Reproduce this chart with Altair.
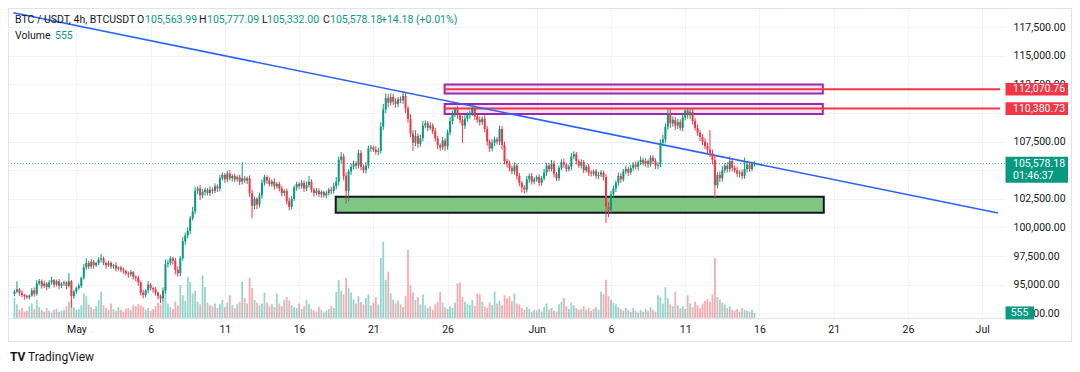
import altair as alt
import pandas as pd

# ---------------- data ----------------
first_open = 94200
closes = [
    94400, 94600, 94300, 94100, 94000, 93900, 94050, 94500, 94200, 95100,
    95300, 94900, 95100, 94800, 95200, 95400, 95000, 95300, 94900, 95100,
    95200, 94900, 95300, 94000, 94400, 94700, 94900, 95600, 96500, 96900,
    96600, 97000, 96700, 96900, 97200, 97300, 96900, 96700, 96900, 96600,
    96700, 96400, 96500, 96300, 96200, 96000, 95900, 96100, 95700, 95600,
    95200, 94300, 94100, 94500, 95000, 94700, 94600, 94300, 94000, 93800,
    94500, 96800, 96900, 97300, 97100, 96300, 96000, 97300, 98800, 99300,
    99700, 100800, 101400, 103200, 103400, 102800, 103100, 103300, 103000, 103300,
    103200, 103600, 103400, 104300, 104600, 104200, 104700, 104300, 104500, 104200,
    104400, 104000, 104300, 104100, 104300, 103000, 101900, 102500, 102000, 102800,
    103900, 104400, 104100, 103800, 104000, 103600, 103800, 103400, 103000, 103200,
    102300, 101800, 102500, 103500, 103800, 103600, 103900, 103400, 103700, 104000,
    103300, 103000, 103200, 102900, 103100, 102800, 103000, 103300, 103200, 103600,
    104000, 105900, 106200, 104500, 103200, 104900, 105300, 105600, 105400, 106500,
    105300, 105000, 105400, 106900, 107000, 106800, 106600, 106700, 108800, 110300,
    111300, 110900, 111400, 111000, 110800, 111200, 111100, 111500, 110400, 109500,
    108200, 107400, 108000, 107300, 107800, 108900, 109100, 108700, 108900, 108400,
    107800, 107200, 107000, 107600, 107100, 108300, 109300, 109900, 110300, 109800,
    109400, 108900, 109500, 109800, 110000, 110400, 109700, 109400, 109200, 109500,
    108600, 107500, 106900, 107400, 107700, 107500, 108600, 107200, 105800, 105600,
    105200, 104900, 105400, 104500, 103900, 103500, 103300, 104200, 104500, 104000,
    104200, 104400, 103900, 104300, 104800, 105400, 105100, 105600, 104700, 104300,
    105200, 105700, 105500, 105100, 105300, 106200, 106400, 105800, 105400, 105700,
    105000, 105300, 104800, 104700, 104900, 104500, 104600, 104800, 104400, 101800,
    101500, 102900, 103400, 103900, 104500, 104200, 104900, 105100, 104800, 105200,
    105500, 105300, 105700, 105900, 105600, 105800, 105500, 106100, 105800, 105400,
    105500, 107400, 107700, 108800, 110000, 109100, 109400, 108900, 109200, 108700,
    109600, 110200, 109800, 110100, 109300, 108700, 108300, 107900, 107500, 107100,
    106800, 106500, 105900, 103700, 104600, 104300, 105000, 105400, 105100, 105800,
    105200, 105000, 104700, 104800, 104500, 105100, 105500, 105100, 105563.99, 105578.18,
]
up_wick = [
    150, 700, 120, 200, 100, 150, 90, 200, 250, 300,
    200, 150, 250, 120, 180, 300, 100, 150, 200, 120,
    150, 100, 700, 100, 150, 120, 200, 100, 300, 400,
    200, 250, 150, 100, 200, 400, 150, 100, 200, 150,
    120, 250, 100, 150, 200, 100, 150, 180, 120, 100,
    200, 150, 250, 100, 300, 150, 100, 200, 120, 150,
    250, 400, 300, 200, 150, 250, 300, 200, 350, 250,
    300, 200, 400, 350, 200, 300, 250, 200, 150, 300,
    200, 250, 150, 300, 200, 150, 250, 300, 150, 200,
    150, 200, 1400, 200, 150, 250, 300, 200, 150, 250,
    300, 200, 150, 250, 200, 300, 150, 200, 250, 150,
    200, 300, 250, 150, 200, 150, 250, 200, 300, 500,
    200, 150, 250, 200, 150, 100, 200, 150, 250, 300,
    400, 300, 400, 250, 300, 200, 300, 250, 200, 300,
    250, 200, 300, 250, 200, 150, 300, 250, 400, 500,
    400, 350, 300, 250, 300, 200, 250, 450, 300, 200,
    400, 300, 500, 200, 300, 400, 250, 200, 300, 200,
    300, 200, 150, 300, 200, 250, 350, 300, 200, 300,
    200, 350, 300, 250, 200, 300, 350, 200, 300, 200,
    300, 250, 200, 300, 250, 200, 300, 250, 300, 200,
    250, 200, 300, 200, 250, 150, 200, 300, 200, 250,
    200, 150, 250, 200, 300, 250, 200, 300, 250, 150,
    200, 250, 300, 150, 200, 300, 250, 200, 150, 250,
    200, 150, 250, 200, 150, 200, 250, 200, 150, 250,
    400, 300, 250, 200, 300, 250, 200, 300, 200, 250,
    200, 250, 150, 300, 200, 250, 150, 200, 200, 250,
    200, 300, 400, 300, 400, 350, 300, 250, 300, 250,
    300, 200, 250, 300, 350, 250, 300, 200, 250, 300,
    300, 1700, 300, 400, 250, 300, 350, 200, 300, 400,
    250, 200, 300, 200, 250, 1000, 300, 250, 200, 198.91,
]
dn_wick = [
    200, 150, 250, 200, 300, 150, 200, 100, 250, 150,
    150, 250, 200, 300, 150, 200, 250, 150, 300, 200,
    200, 300, 150, 1000, 250, 200, 150, 200, 150, 200,
    250, 200, 300, 150, 200, 250, 200, 300, 150, 200,
    200, 250, 150, 200, 250, 200, 300, 200, 250, 300,
    300, 250, 300, 200, 250, 200, 300, 250, 300, 400,
    300, 250, 300, 200, 350, 400, 300, 250, 200, 300,
    250, 300, 200, 250, 300, 400, 250, 300, 200, 250,
    250, 200, 300, 250, 200, 300, 250, 200, 300, 250,
    200, 300, 250, 200, 300, 350, 1100, 300, 400, 250,
    300, 250, 300, 200, 250, 300, 200, 250, 300, 250,
    300, 300, 250, 200, 300, 250, 200, 300, 250, 200,
    250, 300, 200, 250, 300, 200, 250, 200, 300, 250,
    300, 350, 300, 400, 1100, 900, 300, 250, 300, 250,
    300, 250, 300, 250, 300, 200, 250, 300, 250, 300,
    300, 400, 250, 300, 350, 300, 250, 300, 400, 350,
    300, 700, 300, 350, 250, 300, 250, 300, 200, 250,
    300, 350, 300, 250, 400, 300, 250, 300, 250, 300,
    300, 1500, 300, 250, 300, 250, 300, 250, 300, 250,
    300, 350, 300, 250, 300, 250, 300, 400, 300, 350,
    300, 250, 300, 350, 300, 440, 300, 250, 300, 250,
    250, 200, 300, 250, 200, 300, 250, 200, 300, 250,
    250, 200, 300, 250, 200, 300, 250, 300, 200, 250,
    250, 200, 300, 250, 200, 250, 300, 200, 300, 1400,
    600, 300, 250, 300, 250, 300, 200, 250, 300, 200,
    250, 200, 300, 250, 200, 250, 300, 200, 250, 300,
    300, 250, 300, 350, 300, 400, 300, 350, 300, 250,
    300, 250, 300, 350, 300, 250, 300, 350, 300, 250,
    300, 350, 400, 1100, 300, 350, 300, 250, 300, 250,
    300, 250, 300, 350, 300, 250, 300, 250, 200, 246.18,
]
volumes = [
    2200, 1500, 900, 1100, 700, 800, 1300, 1600, 1000, 2000,
    1200, 900, 700, 1100, 800, 600, 900, 1000, 700, 800,
    900, 1300, 1800, 2100, 1200, 900, 1000, 1400, 2700, 2400,
    1500, 1200, 1000, 1300, 2000, 2900, 1400, 1100, 900, 1600,
    1000, 800, 1200, 900, 700, 1000, 1100, 900, 1400, 1300,
    1500, 1400, 1200, 900, 1100, 800, 1000, 1300, 1700, 1500,
    1800, 3400, 1600, 1200, 1000, 1800, 1400, 3600, 2500, 1900,
    4500, 4000, 2700, 3000, 1800, 1500, 4700, 3400, 1700, 1400,
    1300, 1600, 1100, 1500, 2000, 1200, 1700, 2500, 1400, 1100,
    1500, 1800, 4000, 2200, 1600, 4400, 3300, 2000, 1700, 1400,
    1600, 2800, 1700, 1300, 1500, 1200, 2700, 1600, 1300, 2000,
    2300, 1900, 1400, 1200, 1100, 1600, 1000, 1300, 2000, 1500,
    1000, 800, 700, 1200, 900, 600, 800, 1000, 1300, 1100,
    2900, 4200, 3000, 2600, 4400, 3300, 2800, 2000, 1600, 2400,
    1800, 1500, 2200, 2600, 1400, 1700, 2300, 1500, 6600, 8400,
    4200, 5100, 2700, 2000, 1600, 1900, 1500, 1200, 2400, 7500,
    3600, 2800, 2000, 2300, 1500, 2600, 1400, 1100, 1300, 900,
    1500, 1800, 2900, 1700, 1200, 1000, 1300, 1100, 1700, 3800,
    3900, 2300, 1800, 1500, 1400, 2000, 1300, 2700, 2600, 1800,
    1300, 1100, 1700, 1400, 2900, 1600, 1900, 1400, 2500, 2200,
    2400, 1900, 2700, 1600, 1500, 1100, 900, 1200, 1000, 700,
    900, 800, 1000, 700, 1200, 1600, 900, 1100, 800, 700,
    1500, 1800, 2200, 1300, 1000, 1700, 1400, 1100, 900, 1000,
    1300, 900, 1100, 800, 1000, 1200, 900, 2900, 2600, 4200,
    2400, 2000, 1700, 1500, 1200, 1000, 800, 1100, 900, 700,
    1100, 800, 600, 900, 700, 1000, 800, 1200, 900, 700,
    2500, 2300, 1600, 3400, 2200, 1500, 1300, 2900, 1400, 1100,
    1300, 1000, 2500, 1600, 1200, 1800, 1400, 1100, 1600, 1900,
    2100, 1800, 2600, 6600, 2300, 2000, 1700, 1500, 1100, 1300,
    900, 800, 1000, 700, 1100, 900, 800, 700, 900, 555,
]
assert len(closes) == len(up_wick) == len(dn_wick) == len(volumes) == 300

# first candle opens Apr 26 20:00 -> hours relative to May 1 00:00
first_candle_hour = -100
bar_hours = 4

tick_hours = [0, 120, 240, 360, 480, 600, 744, 864, 984, 1104, 1224, 1344, 1464]
tick_labels = ["May", "6", "11", "16", "21", "26", "Jun", "6", "11", "16", "21", "26", "Jul"]
price_ticks = [92500, 95000, 97500, 100000, 102500, 105000, 107500, 110000,
               112500, 115000, 117500]
hidden_price_labels = [105000, 110000]   # covered by the price tags in the reference

# drawings
purple_zones_lo = [111700, 109920]
purple_zones_hi = [112480, 110790]
purple_start_h, purple_end_h = 595.2, 1206.4
levels = [112070.76, 110380.73]
green_zone = (101275, 102672)
green_start_h, green_end_h = 419.2, 1208.0
trend_h = [-101.9, 1489.6]
trend_p = [118752, 101266]
last_price = 105578.18
countdown = "01:46:37"

# ---------------- layout ----------------
UP, DOWN = "#089981", "#f23645"
W, H = 997, 310
X_DOM = [-102.4, 1492.8]
Y_DOM = [92090, 119170]
V_DOM = [0, 34100]
PX_USD = (Y_DOM[1] - Y_DOM[0]) / H
PX_VOL = (V_DOM[1] - V_DOM[0]) / H
FONT = "Roboto"
FS = 10.5

opens = [first_open] + closes[:-1]
rows = []
for i, (o, c, uw, dw, v) in enumerate(zip(opens, closes, up_wick, dn_wick, volumes)):
    rows.append(dict(h=first_candle_hour + bar_hours * i, open=o, close=c,
                     high=max(o, c) + uw, low=min(o, c) - dw, vol=v,
                     dir="up" if c >= o else "down"))
df = pd.DataFrame(rows)

xs = alt.Scale(domain=X_DOM, nice=False, zero=False)
ys = alt.Scale(domain=Y_DOM, nice=False, zero=False)
vs = alt.Scale(domain=V_DOM, nice=False, zero=False)
col = alt.Color("dir:N", scale=alt.Scale(domain=["up", "down"], range=[UP, DOWN]), legend=None)

label_expr = " : ".join(f"datum.value == {h} ? '{l}'" for h, l in zip(tick_hours, tick_labels)) + " : ''"
hide_expr = " || ".join(f"datum.value == {v}" for v in hidden_price_labels)
y_label_expr = f"({hide_expr}) ? '' : format(datum.value, ',.2f')"

x_axis = alt.Axis(values=tick_hours, labelExpr=label_expr, grid=True, gridColor="#f0f3fa",
                  ticks=False, domain=True, domainColor="#e0e3eb", labelFontSize=FS,
                  labelColor="#131722", labelPadding=6, labelFont=FONT, title=None,
                  labelFlush=False, labelOverlap=False)
y_axis = alt.Axis(orient="right", values=price_ticks, labelExpr=y_label_expr, grid=True,
                  gridColor="#f0f3fa", ticks=False, domain=False, labelPadding=8,
                  labelAlign="left", labelFontSize=FS, labelColor="#131722", labelFont=FONT,
                  title=None, labelFlush=False, labelOverlap=False)

X = lambda f: alt.X(f, type="quantitative", scale=xs, axis=x_axis)
Y = lambda f: alt.Y(f, type="quantitative", scale=ys, axis=y_axis)
YV = lambda f: alt.Y(f, type="quantitative", scale=vs, axis=None)

one = pd.DataFrame({"a": [0]})

# volume group (own y scale)
vol_bars = alt.Chart(df).mark_bar(size=1.8, opacity=0.42).encode(x=X("h"), y=YV("vol"), color=col)
vol_lab = pd.DataFrame({"v": [volumes[-1]], "lo": [volumes[-1] - 6.5 * PX_VOL],
                        "hi": [volumes[-1] + 6.5 * PX_VOL], "t": [f"{volumes[-1]}"]})
vol_box = alt.Chart(vol_lab).mark_rect(color=UP).encode(
    x=alt.value(997.5), x2=alt.value(1026), y=YV("lo"), y2="hi")
vol_txt = alt.Chart(vol_lab).mark_text(color="white", font=FONT, fontSize=FS, align="center").encode(
    x=alt.value(1011.5), y=YV("v"), text="t:N")
vol_group = alt.layer(vol_bars, vol_box, vol_txt)

# price group
gz = pd.DataFrame({"x0": [green_start_h], "x1": [green_end_h], "lo": [green_zone[0]], "hi": [green_zone[1]]})
green_box = alt.Chart(gz).mark_rect(fill="#81c784", stroke="#131722", strokeWidth=2).encode(
    x=X("x0"), x2="x1", y=Y("lo"), y2="hi")

pz = pd.DataFrame({"x0": [purple_start_h] * 2, "x1": [purple_end_h] * 2,
                   "lo": purple_zones_lo, "hi": purple_zones_hi})
purple_box = alt.Chart(pz).mark_rect(fill="#9c27b0", fillOpacity=0.13, stroke="#9c27b0",
                                     strokeWidth=2).encode(x=X("x0"), x2="x1", y=Y("lo"), y2="hi")

lv = pd.DataFrame({"p": levels, "x0": [purple_start_h] * 2, "x1": [X_DOM[1]] * 2,
                   "lo": [p - 6.3 * PX_USD for p in levels], "hi": [p + 6.3 * PX_USD for p in levels],
                   "t": [f"{p:,.2f}" for p in levels]})
level_lines = alt.Chart(lv).mark_rule(color=DOWN, strokeWidth=2).encode(x=X("x0"), x2="x1", y=Y("p"))

trend = alt.Chart(pd.DataFrame({"x0": [trend_h[0]], "x1": [trend_h[1]], "p0": [trend_p[0]], "p1": [trend_p[1]]})
                  ).mark_rule(color="#2962ff", strokeWidth=1.6, clip=True).encode(
    x=X("x0"), x2="x1", y=Y("p0"), y2="p1")

lp = pd.DataFrame({"p": [last_price], "hi": [last_price + 6.8 * PX_USD], "lo": [last_price - 19.2 * PX_USD],
                   "t": [f"{last_price:,.2f}"], "t2": [countdown], "p2": [last_price - 12.5 * PX_USD]})
last_line = alt.Chart(lp).mark_rule(color=UP, strokeWidth=1, strokeDash=[1, 2], opacity=0.8).encode(
    x=alt.value(0), x2=alt.value(W), y=Y("p"))

wicks = alt.Chart(df).mark_rule(strokeWidth=1).encode(x=X("h"), y=Y("low"), y2="high", color=col)
bodies = alt.Chart(df).mark_bar(size=2).encode(x=X("h"), y=Y("open"), y2="close", color=col)

level_box = alt.Chart(lv).mark_rect(color=DOWN).encode(
    x=alt.value(997.5), x2=alt.value(1060), y=Y("lo"), y2="hi")
level_txt = alt.Chart(lv).mark_text(color="white", font=FONT, fontSize=FS, align="left").encode(
    x=alt.value(1005), y=Y("p"), text="t:N")
last_box = alt.Chart(lp).mark_rect(color=UP).encode(
    x=alt.value(997.5), x2=alt.value(1060), y=Y("lo"), y2="hi")
last_txt = alt.Chart(lp).mark_text(color="white", font=FONT, fontSize=FS, align="left").encode(
    x=alt.value(1005), y=Y("p"), text="t:N")
last_txt2 = alt.Chart(lp).mark_text(color="white", font=FONT, fontSize=FS, align="left").encode(
    x=alt.value(1005), y=Y("p2"), text="t2:N")

price_group = alt.layer(green_box, purple_box, level_lines, trend, last_line,
                        wicks, bodies, level_box, level_txt, last_box, last_txt, last_txt2)


def txt(t, x, y, color="#131722", size=FS, weight="normal"):
    return alt.Chart(one).mark_text(text=t, align="left", baseline="middle", font=FONT,
                                    fontSize=size, fontWeight=weight, color=color).encode(
        x=alt.value(x), y=alt.value(y))


def line(x, x2, y, y2, color="#e0e3eb"):
    return alt.Chart(one).mark_rule(color=color, strokeWidth=1).encode(
        x=alt.value(x), x2=alt.value(x2), y=alt.value(y), y2=alt.value(y2))


texts = [
    txt("BTC / USDT, 4h, BTCUSDT", 7, 12),
    txt("O", 129, 12), txt("105,563.99", 137, 12, UP),
    txt("H", 191, 12), txt("105,777.09", 199, 12, UP),
    txt("L", 254, 12), txt("105,332.00", 259, 12, UP),
    txt("C", 315, 12), txt("105,578.18", 322, 12, UP),
    txt("+14.18 (+0.01%)", 373, 12, UP),
    txt("Volume", 7, 28), txt("555", 47, 28, UP),
    txt("TV", 2, 349, "#131722", 12, "bold"),
    txt("TradingView", 20, 349, "#131722", 12),
]
frame = [line(0.5, 0.5, 0, 334), line(0, 1064, 0.5, 0.5), line(1063.5, 1063.5, 0, 334),
         line(0, 1064, 333.5, 333.5)]

chart = alt.layer(vol_group, price_group, *frame, *texts).resolve_scale(y="independent").properties(
    width=W, height=H,
    autosize=alt.AutoSizeParams(type="none"),
    padding={"left": 0, "top": 0, "right": 67, "bottom": 50},
).configure_view(stroke=None)

chart.save("out.html", embed_options={"renderer": "svg", "actions": False})
